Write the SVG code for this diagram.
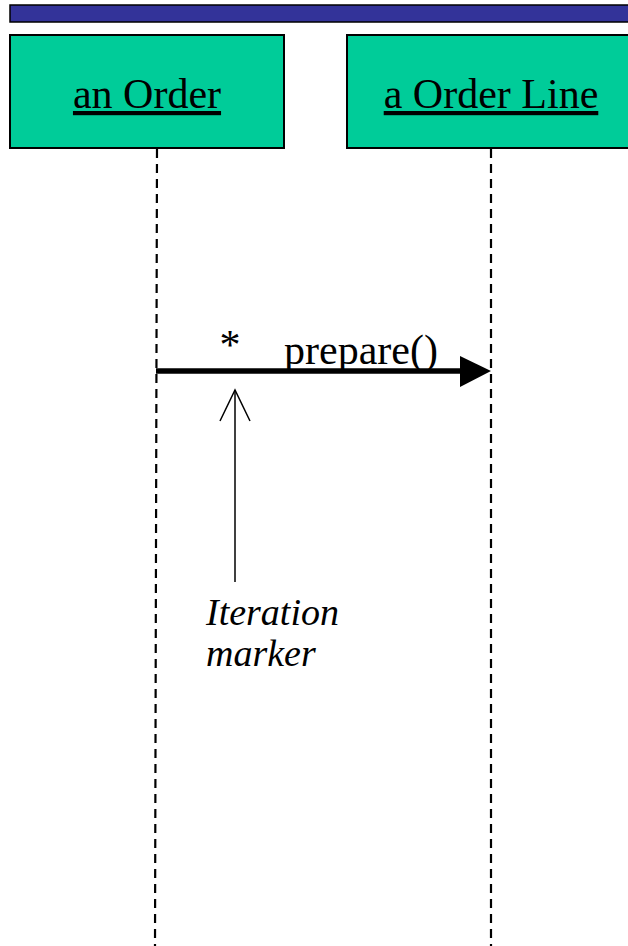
<svg xmlns="http://www.w3.org/2000/svg" width="628" height="946" viewBox="0 0 628 946">
<style>
.box{fill:#00CC99;stroke:#000;stroke-width:2}
.life{stroke:#000;stroke-width:2.2;stroke-dasharray:9,6;fill:none}
text{font-family:'Liberation Serif','Times New Roman',serif;fill:#000}
.lbl{font-size:42px;text-decoration:underline}
.msg{font-size:42px}
.note{font-size:38px;font-style:italic}
</style>
<rect x="10" y="5" width="630" height="17" fill="#333399" stroke="#000" stroke-width="1.5"/>
<g id="order">
<rect class="box" x="10" y="35" width="274" height="113"/>
<text class="lbl" x="147" y="108" text-anchor="middle">an Order</text>
</g>
<g id="orderline">
<rect class="box" x="347" y="35" width="290" height="113"/>
<text class="lbl" x="491" y="108" text-anchor="middle">a Order Line</text>
</g>
<g id="connectors">
<line class="life" x1="157" y1="149" x2="155" y2="946"/>
<line class="life" x1="491" y1="149" x2="491" y2="946"/>
<line x1="156" y1="371" x2="462" y2="371" stroke="#000" stroke-width="5.5"/>
<path d="M460,356 L491,371 L460,387 Z" fill="#000"/>
<line x1="235" y1="582" x2="235" y2="390" stroke="#000" stroke-width="1.5"/>
<path d="M220,421 L235,390 L250,421" fill="none" stroke="#000" stroke-width="1.5"/>
</g>
<text class="msg" x="230" y="359" text-anchor="middle">*</text>
<text class="msg" x="284" y="364">prepare()</text>
<text class="note" x="206" y="625">Iteration</text>
<text class="note" x="206" y="666">marker</text>
</svg>
